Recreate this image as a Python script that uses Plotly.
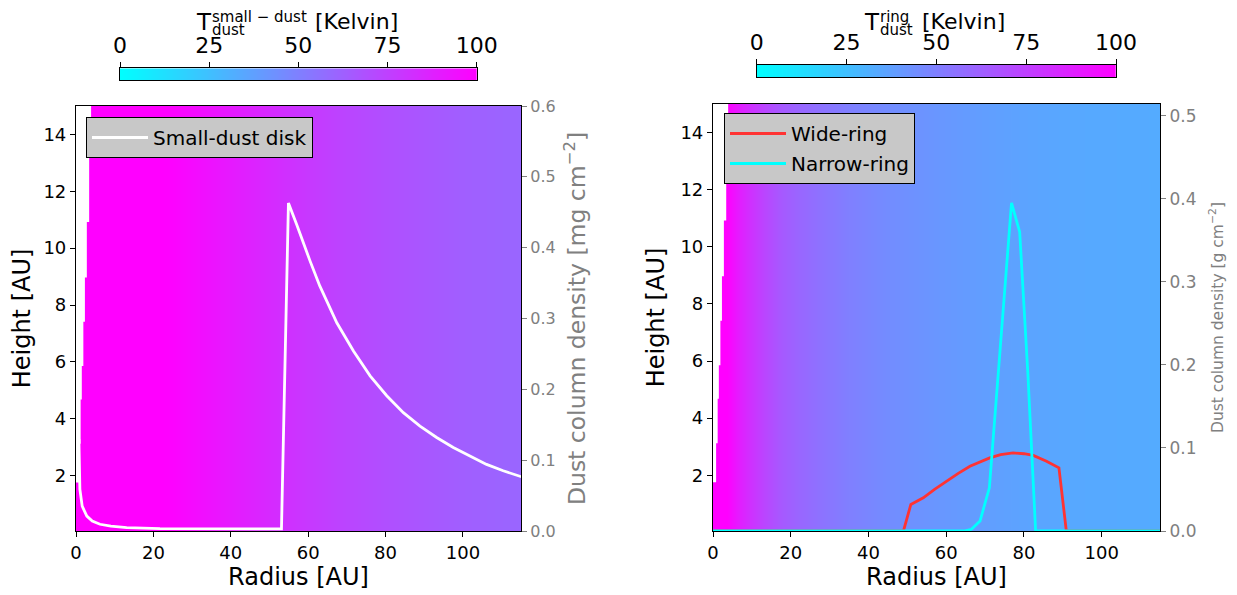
import plotly.graph_objects as go

# page body has an 8px default margin: size the figure so it fills the window
OFF = 8
W, H = 1237 - OFF, 595 - OFF
FONT = "DejaVu Sans"

# ---------------- data ----------------
# temperature profiles (K) vs radius (AU), read from the colour maps
T_small_r = [0, 22, 25, 30, 35, 40, 45, 50, 55, 60, 70, 80, 90, 100, 115]
T_small_K = [100, 100, 99, 96, 93, 90, 87, 84, 81, 78, 73, 69, 66, 63, 60]
T_ring_r = [0, 3.5, 5, 7, 10, 13, 17, 22, 28, 35, 45, 58, 70, 80, 94, 115]
T_ring_K = [100, 100, 95, 88, 80, 73, 66, 60, 55, 50, 45, 41, 38, 36, 34, 33]
height_rows = [0, 15.2]

# inner model grid (spherical grid: no cells above z/r limit)
grid_r_edges = [0.45, 0.8, 1.2, 1.5, 1.9, 2.3, 2.8, 3.4, 3.9]
grid_z_over_r = 3.9

# small-dust disk column density [mg cm^-2]
small_r = [0.75, 1.0, 1.6, 2.8, 4.2, 6.2, 9.0, 13.1, 21.7, 30, 40, 50, 53.1,
           54.9, 57.0, 58.7, 60.5, 63.0, 67.4, 71.7, 76.0, 80.3, 84.6, 88.9,
           93.2, 97.5, 101.8, 106.1, 110.4, 114.7, 116]
small_sigma = [0.13, 0.059, 0.035, 0.021, 0.014, 0.0095, 0.0068, 0.0048, 0.0034,
               0.003, 0.003, 0.003, 0.003,
               0.463, 0.433, 0.407, 0.381, 0.346, 0.294, 0.254, 0.219, 0.191,
               0.167, 0.148, 0.132, 0.118, 0.106, 0.094, 0.085, 0.077, 0.075]

# ring column densities [g cm^-2]
wide_r = [0, 49.0, 50.9, 54.1, 57.0, 60.1, 63.0, 66.1, 68.6, 71.2, 74.0, 77.2,
          80.0, 82.4, 85.8, 89.0, 90.9, 115]
wide_sigma = [0, 0, 0.032, 0.040, 0.050, 0.060, 0.069, 0.078, 0.083, 0.088,
              0.092, 0.094, 0.093, 0.091, 0.084, 0.076, 0, 0]
narrow_r = [0, 64.5, 66.5, 68.7, 71.1, 73.0, 75.0, 76.8, 78.9, 81.0, 83.0, 115]
narrow_sigma = [0, 0, 0.002, 0.012, 0.052, 0.17, 0.29, 0.395, 0.36, 0.19, 0, 0]

cbar_ticks = [0, 25, 50, 75, 100]
cbar_span = [0, 100]
x_ticks = [0, 20, 40, 60, 80, 100]
y_ticks = [2, 4, 6, 8, 10, 12, 14]
small_ticks = [0.0, 0.1, 0.2, 0.3, 0.4, 0.5, 0.6]
ring_ticks = [0.0, 0.1, 0.2, 0.3, 0.4, 0.5]

COOL = [[0, "#00ffff"], [1, "#ff00ff"]]


def px(x):
    return (x - OFF) / W


def py(y):
    return 1 - (y - OFF) / H


def staircase(edges, k, ztop):
    xs, ys = [0], [k * edges[0]]
    for i in range(1, len(edges)):
        xs += [edges[i], edges[i]]
        ys += [k * edges[i - 1], min(k * edges[i], ztop)]
    xs += [0]
    ys += [ztop]
    return xs, ys


fig = go.Figure()


def add_heat(rr, TT, xa, ya):
    fig.add_trace(go.Heatmap(
        x=rr, y=height_rows, z=[TT, TT], xaxis=xa, yaxis=ya,
        colorscale=COOL, zmin=0, zmax=100, zsmooth="best", hoverinfo="skip",
        showscale=False))
    sx, sy = staircase(grid_r_edges, grid_z_over_r, 15.3)
    fig.add_trace(go.Scatter(x=sx, y=sy, xaxis=xa, yaxis=ya, mode="lines",
                             fill="toself", fillcolor="white",
                             line=dict(width=0, color="white"),
                             hoverinfo="skip", showlegend=False))


add_heat(T_small_r, T_small_K, "x", "y")
add_heat(T_ring_r, T_ring_K, "x2", "y2")

# colour bars drawn as thin strips on their own axes
for xa, ya in (("x3", "y5"), ("x4", "y6")):
    fig.add_trace(go.Heatmap(x=cbar_span, y=[0, 1], z=[cbar_span, cbar_span],
                             xaxis=xa, yaxis=ya, colorscale=COOL, zmin=0,
                             zmax=100, zsmooth="best", showscale=False,
                             hoverinfo="skip"))

fig.add_trace(go.Scatter(x=small_r, y=small_sigma, xaxis="x", yaxis="y3",
                         mode="lines", name="Small-dust disk",
                         line=dict(color="white", width=2.8), legend="legend"))
fig.add_trace(go.Scatter(x=wide_r, y=wide_sigma, xaxis="x2", yaxis="y4",
                         mode="lines", name="Wide-ring", legendgroup="w",
                         line=dict(color="#ff3333", width=2.8), legend="legend2"))
fig.add_trace(go.Scatter(x=narrow_r, y=narrow_sigma, xaxis="x2", yaxis="y4",
                         mode="lines", name="Narrow-ring", legendgroup="n",
                         line=dict(color="#00ffff", width=2.8), legend="legend2"))

tickfont = dict(family=FONT, size=18, color="black")
titlefont = dict(family=FONT, size=24, color="black")
common_x = dict(range=[0, 115], tickvals=x_ticks, ticks="outside", ticklen=5,
                tickcolor="black", showline=True, mirror=True, linecolor="black",
                linewidth=1.2, showgrid=False, zeroline=False, tickfont=tickfont,
                automargin=False,
                title=dict(text="Radius [AU]", font=titlefont, standoff=5))
common_y = dict(range=[0.05, 15], tickvals=y_ticks, ticks="outside", ticklen=5,
                tickcolor="black", showline=True, linecolor="black",
                linewidth=1.2, showgrid=False, zeroline=False, tickfont=tickfont,
                automargin=False,
                title=dict(text="Height [AU]", font=titlefont, standoff=8))
cbar_x = dict(range=cbar_span, tickvals=cbar_ticks, side="top", ticks="outside",
              ticklen=5, tickcolor="black", showline=True, mirror=True,
              linecolor="black", linewidth=1.2, showgrid=False, zeroline=False,
              automargin=False,
              tickfont=dict(family=FONT, size=22, color="black"))
cbar_y = dict(range=[0, 1], showticklabels=False, ticks="", showline=True,
              mirror=True, linecolor="black", linewidth=1.2, showgrid=False,
              zeroline=False, automargin=False)
grey = "#808080"

fig.update_layout(
    width=W, height=H, margin=dict(l=0, r=0, t=0, b=0, autoexpand=False),
    paper_bgcolor="white", plot_bgcolor="white",
    font=dict(family=FONT),
    xaxis=dict(domain=[px(76), px(521)], anchor="y", **common_x),
    yaxis=dict(domain=[py(531), py(106)], anchor="x", **common_y),
    xaxis2=dict(domain=[px(713), px(1160)], anchor="y2", **common_x),
    yaxis2=dict(domain=[py(531), py(104)], anchor="x2", **common_y),
    yaxis3=dict(overlaying="y", anchor="x", side="right", range=[0, 0.6],
                tickvals=small_ticks, ticktext=[f"{v:.1f}" for v in small_ticks],
                ticks="outside", ticklen=5, tickcolor=grey,
                tickfont=dict(family=FONT, size=16, color=grey),
                showline=True, linecolor="black", linewidth=1.2,
                showgrid=False, zeroline=False, automargin=False,
                title=dict(text="Dust column density [mg cm<sup>−2</sup>]",
                           font=dict(family=FONT, size=23.5, color=grey), standoff=13)),
    yaxis4=dict(overlaying="y2", anchor="x2", side="right", range=[0, 0.514],
                tickvals=ring_ticks, ticktext=[f"{v:.1f}" for v in ring_ticks],
                ticks="outside", ticklen=5, tickcolor=grey,
                tickfont=dict(family=FONT, size=17, color=grey),
                showline=True, linecolor="black", linewidth=1.2,
                showgrid=False, zeroline=False, automargin=False,
                title=dict(text="Dust column density [g cm<sup>−2</sup>]",
                           font=dict(family=FONT, size=15.5, color=grey), standoff=16)),
    xaxis3=dict(domain=[px(120), px(476.7)], anchor="y5", **cbar_x),
    yaxis5=dict(domain=[py(80), py(68.3)], anchor="x3", **cbar_y),
    xaxis4=dict(domain=[px(756.7), px(1116)], anchor="y6", **cbar_x),
    yaxis6=dict(domain=[py(77.3), py(65)], anchor="x4", **cbar_y),
    legend=dict(x=px(86), y=py(117), xanchor="left", yanchor="top",
                bgcolor="#c8c8c8", bordercolor="black", borderwidth=1,
                itemwidth=56,
                font=dict(family=FONT, size=20, color="black")),
    legend2=dict(x=px(724), y=py(113), xanchor="left", yanchor="top",
                 bgcolor="#c8c8c8", bordercolor="black", borderwidth=1,
                 itemwidth=56, tracegroupgap=1,
                 font=dict(family=FONT, size=20, color="black")),
)


# colorbar titles (stacked sub/superscripts as in the original)
def ann(text, x, y, size):
    fig.add_annotation(text=text, x=px(x), y=py(y), xref="paper", yref="paper",
                       xanchor="left", yanchor="middle", showarrow=False,
                       font=dict(family=FONT, size=size, color="black"))


ann("T", 194, 22, 23)
ann("small − dust", 210, 17, 15)
ann("dust", 210, 30, 15)
ann("[Kelvin]", 313, 21.5, 22)

ann("T", 862, 22, 23)
ann("ring", 878, 17, 15)
ann("dust", 878, 30, 15)
ann("[Kelvin]", 920, 21.5, 22)

fig.write_html("out.html")
